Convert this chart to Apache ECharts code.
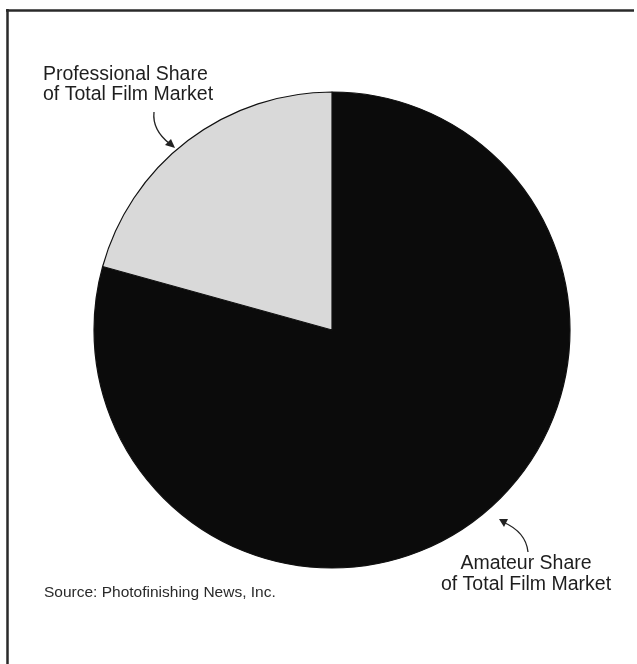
<!DOCTYPE html>
<html>
<head>
<meta charset="utf-8">
<script src="https://cdn.jsdelivr.net/npm/echarts@6/dist/echarts.min.js"></script>
<style>
html,body{margin:0;padding:0;background:#fff;}
#chart{width:637px;height:664px;}
</style>
</head>
<body>
<div id="chart"></div>
<script>
// Data (share of total film market, %)
var categories = ['Amateur Share\nof Total Film Market', 'Professional Share\nof Total Film Market'];
var shares = [79.3, 20.7];
var sliceColors = ['#0b0b0b', '#d9d9d9'];
var sourceNote = 'Source: Photofinishing News, Inc.';

var chart = echarts.init(document.getElementById('chart'));
var font = '"Liberation Sans", Arial, Helvetica, sans-serif';

var pieData = categories.map(function (c, i) {
  return { name: c, value: shares[i], itemStyle: { color: sliceColors[i] } };
});

chart.setOption({
  backgroundColor: '#ffffff',
  animation: false,
  series: [{
    type: 'pie',
    center: [332, 330],
    radius: [0, 238],
    startAngle: 90,
    clockwise: true,
    label: { show: false },
    labelLine: { show: false },
    emphasis: { disabled: true },
    itemStyle: { borderColor: '#111', borderWidth: 1.2 },
    data: pieData
  }],
  graphic: [
    // frame
    { type: 'line', shape: { x1: 7.5, y1: 9, x2: 7.5, y2: 664 }, style: { stroke: '#2a2a2a', lineWidth: 2.5 } },
    { type: 'line', shape: { x1: 6, y1: 10.5, x2: 634, y2: 10.5 }, style: { stroke: '#2a2a2a', lineWidth: 2.5 } },
    // professional label
    { type: 'text', left: 43, top: 65, style: { text: categories[1], font: '19.5px ' + font, fill: '#1e1e1e', lineHeight: 20, textAlign: 'left' } },
    // amateur label
    { type: 'text', x: 526, y: 553, style: { text: categories[0], font: '19.5px ' + font, fill: '#1e1e1e', lineHeight: 21, textAlign: 'center' } },
    // source
    { type: 'text', left: 44, top: 585, style: { text: sourceNote, font: '15.5px ' + font, fill: '#2a2a2a' } },
    // arrow to professional slice
    { type: 'bezierCurve', shape: { x1: 154, y1: 112, cpx1: 152, cpy1: 130, x2: 170, y2: 144 }, style: { stroke: '#222', lineWidth: 1.3, fill: null } },
    { type: 'polygon', shape: { points: [[175, 148], [165, 145], [171, 139]] }, style: { fill: '#222' } },
    // arrow to amateur slice
    { type: 'bezierCurve', shape: { x1: 528, y1: 552, cpx1: 526, cpy1: 532, x2: 503, y2: 522 }, style: { stroke: '#222', lineWidth: 1.3, fill: null } },
    { type: 'polygon', shape: { points: [[499, 519], [508, 519], [504, 527]] }, style: { fill: '#222' } }
  ]
});
</script>
</body>
</html>
